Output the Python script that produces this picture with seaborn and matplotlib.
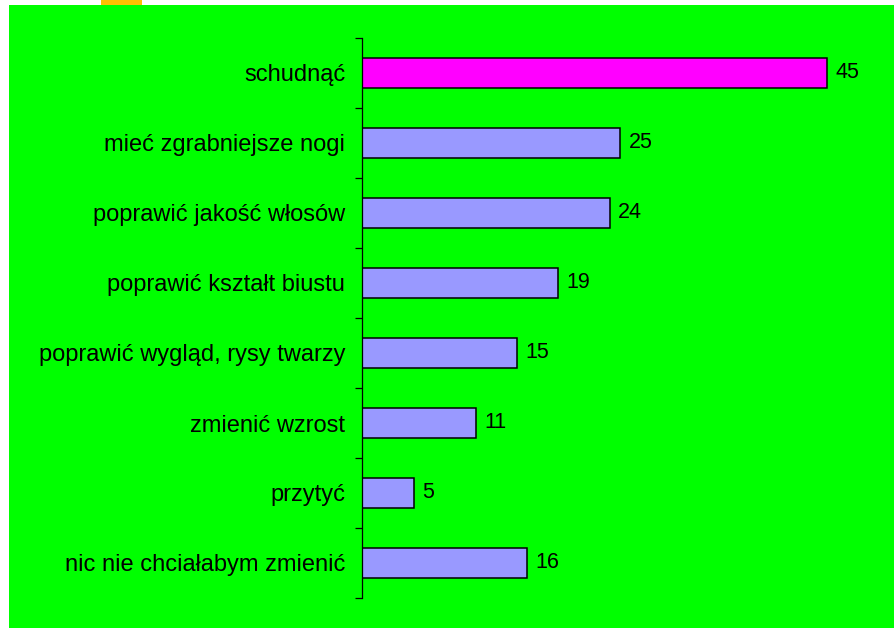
import matplotlib
matplotlib.use("Agg")
import matplotlib.pyplot as plt
import seaborn as sns
import pandas as pd
from matplotlib.patches import Rectangle
from matplotlib import font_manager

categories = ["schudnąć", "mieć zgrabniejsze nogi", "poprawić jakość włosów",
              "poprawić kształt biustu", "poprawić wygląd, rysy twarzy",
              "zmienić wzrost", "przytyć", "nic nie chciałabym zmienić"]
values = [45, 25, 24, 19, 15, 11, 5, 16]
groups = ["top", "other", "other", "other", "other", "other", "other", "other"]

df = pd.DataFrame({"cat": categories, "val": values, "grp": groups})

sns.set_theme(style="white")
names = {f.name for f in font_manager.fontManager.ttflist}
narrow = "Liberation Sans Narrow" if "Liberation Sans Narrow" in names else "Liberation Sans"
plt.rcParams["font.family"] = ["Liberation Sans", "DejaVu Sans"]

W, H = 895, 628
fig = plt.figure(figsize=(W / 100, H / 100), dpi=100, facecolor="white")
fig.patches.append(Rectangle((9 / W, 0), 1 - 9 / W, 1 - 5 / H, transform=fig.transFigure,
                             facecolor="#00FF00", edgecolor="none", zorder=-10))
fig.patches.append(Rectangle((101 / W, 1 - 5 / H), 41 / W, 5 / H, transform=fig.transFigure,
                             facecolor="#FFC000", edgecolor="none", zorder=-10))

ax = fig.add_axes([362 / W, 1 - 598 / H, (W - 362) / W, 560 / H])
ax.patch.set_alpha(0)

sns.barplot(data=df, x="val", y="cat", hue="grp", orient="h",
            palette={"top": "#FF00FF", "other": "#9999FF"}, dodge=False,
            width=0.42, edgecolor="black", linewidth=1.1, saturation=1,
            legend=False, ax=ax)

ax.set_xlim(0, (W - 362) / 10.33)
ax.set_ylim(len(categories) - 0.5, -0.5)
ax.set_xlabel("")
ax.set_ylabel("")
ax.set_xticks([])
for s in ["top", "right", "bottom"]:
    ax.spines[s].set_visible(False)
ax.spines["left"].set_color("black")
ax.spines["left"].set_linewidth(0.9)

ax.set_yticks(range(len(categories)))
ax.set_yticklabels(categories, fontsize=17, family=[narrow, "DejaVu Sans"], color="black")
ax.tick_params(axis="y", which="major", length=0, pad=12)
ax.set_yticks([i - 0.5 for i in range(len(categories) + 1)], minor=True)
ax.tick_params(axis="y", which="minor", length=5, width=0.9, color="black", left=True)

for c in ax.containers:
    labels = [f"{b.get_width():.0f}" if b.get_width() > 0 else "" for b in c]
    ax.bar_label(c, labels=labels, fontsize=15.5, padding=6, color="black")

fig.savefig("out.png", dpi=100, facecolor="white")
